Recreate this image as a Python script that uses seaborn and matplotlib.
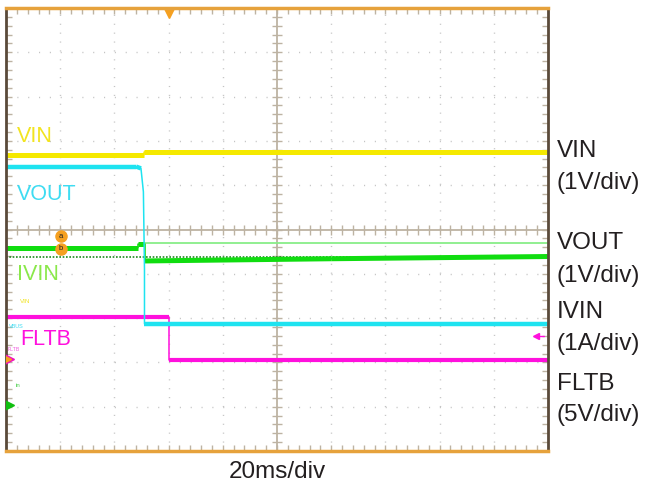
"""
Scope capture redrawn: VIN / VOUT / IVIN / FLTB at 20 ms/div.
Trace levels are in screen divisions (centre line = 0, +-5 div).
"""

import matplotlib
matplotlib.use('Agg')
import matplotlib.pyplot as plt
from matplotlib.ticker import MultipleLocator
import pandas as pd
import seaborn as sns

sns.set_style('white')
plt.rcParams['font.family'] = ['Liberation Sans', 'DejaVu Sans']

# time axis in ms (10 div x 20 ms)
X_MAX = 200

# traces: time (ms) and level (div)
vin_t = [0, 50.8, 51.0, 200]
vin_v = [1.68, 1.68, 1.75, 1.75]

vout_t = [0, 48.0, 49.8, 50.7, 51.1, 51.1, 200]
vout_v = [1.42, 1.42, 1.38, 0.85, -0.9, -2.13, -2.13]

ivin_t = [0, 48.7, 48.7, 50.8, 51.3, 51.3, 120, 200]
ivin_v = [-0.41, -0.41, -0.33, -0.33, -0.33, -0.71, -0.66, -0.61]

fltb_t = [0, 60.0, 60.0, 200]
fltb_v = [-1.97, -1.97, -2.95, -2.95]

# reference lines
ivin_ref_t = [49.5, 200]
ivin_ref_v = [-0.30, -0.30]
dotted_ref_t = [0, 200]
dotted_ref_v = [-0.62, -0.62]

# channel names, colours and scales
channels = ['VIN', 'VOUT', 'IVIN', 'FLTB']
scales = ['(1V/div)', '(1V/div)', '(1A/div)', '(5V/div)']
trace_colors = ['#f5e900', '#1ee3f0', '#10dd10', '#ff10dd']
label_colors = ['#f2e420', '#3fdcf2', '#8ae84a', '#ff10dd']

TAN = '#bdb3a3'


def draw_trace(ax, t, v, color, lw):
    """thin line for the whole path, thick for the flat parts"""
    df = pd.DataFrame({'t': t, 'v': v})
    sns.lineplot(data=df, x='t', y='v', color=color, lw=1.1,
                 estimator=None, sort=False, ax=ax)
    for i in range(len(t) - 1):
        if t[i + 1] - t[i] > 1.0:
            seg = df.iloc[i:i + 2]
            sns.lineplot(data=seg, x='t', y='v', color=color, lw=lw,
                         estimator=None, sort=False, ax=ax,
                         solid_capstyle='butt')


fig = plt.figure(figsize=(6.52, 4.87), dpi=100)
ax = fig.add_axes([6 / 652, 36 / 487, 542 / 652, 443 / 487])
ax.set_xlim(0, X_MAX)
ax.set_ylim(-5, 5)

# dotted graticule
for gx in range(20, X_MAX, 20):
    if gx != 100:
        ax.axvline(gx, color='#c4c4c4', lw=1, ls=(0, (0.8, 5.6)), zorder=0)
for gy in range(-4, 5):
    if gy != 0:
        ax.axhline(gy, color='#c4c4c4', lw=1, ls=(0, (0.8, 7.0)), zorder=0)

# centre cross with ticks
ax.axhline(0, color=TAN, lw=1.3, zorder=0)
ax.axvline(100, color=TAN, lw=1.3, zorder=0)
ax.plot([i * 4 for i in range(1, 50)], [0] * 49, ls='none', marker='|',
        ms=7, mew=1, color=TAN, zorder=0)
ax.plot([100] * 49, [-5 + i * 0.2 for i in range(1, 50)], ls='none',
        marker='_', ms=7, mew=1, color=TAN, zorder=0)

# border ticks
ax.xaxis.set_major_locator(MultipleLocator(20))
ax.xaxis.set_minor_locator(MultipleLocator(4))
ax.yaxis.set_major_locator(MultipleLocator(1))
ax.yaxis.set_minor_locator(MultipleLocator(0.2))
ax.tick_params(which='both', direction='in', top=True, right=True,
               bottom=True, left=True, length=4, width=1, color=TAN,
               labelbottom=False, labelleft=False)
ax.set_xlabel('')
ax.set_ylabel('')

# frame
for side in ['left', 'right']:
    ax.spines[side].set_color('#5a4a3a')
    ax.spines[side].set_linewidth(2)
for side in ['top', 'bottom']:
    ax.spines[side].set_color('#e6a23c')
    ax.spines[side].set_linewidth(2.5)

# reference lines
ax.plot(dotted_ref_t, dotted_ref_v, color='#1a8a1a', lw=1.2,
        ls=(0, (1, 1)), zorder=1)
ax.plot(ivin_ref_t, ivin_ref_v, color='#88ee88', lw=1.3, zorder=1)

# traces
draw_trace(ax, fltb_t, fltb_v, trace_colors[3], 3.0)
draw_trace(ax, ivin_t, ivin_v, trace_colors[2], 3.6)
draw_trace(ax, vout_t, vout_v, trace_colors[1], 3.2)
draw_trace(ax, vin_t, vin_v, trace_colors[0], 3.6)

# trigger / cursor markers
ax.plot(60, 4.88, marker='v', ms=7, color='#f5a020', clip_on=False)
for lab, ly in [('a', -0.15), ('b', -0.44)]:
    ax.plot(20.3, ly, marker='o', ms=8, color='#f5a020', zorder=5)
    ax.text(20.3, ly, lab, fontsize=5.5, ha='center', va='center',
            color='#202020', zorder=6)

# channel ground arrows
ax.plot(1.2, -2.92, marker='>', ms=7, color='#f010c0', zorder=5)
ax.plot(0.9, -2.92, marker='>', ms=4, color='#f5a020', zorder=6)
ax.plot(1.2, -3.96, marker='>', ms=7, color='#10c010', zorder=5)
ax.plot([195.5, 198.5], [-2.40, -2.40], color='#ff10dd', lw=1)
ax.plot(195.5, -2.40, marker='<', ms=4, color='#ff10dd')

# big labels inside the screen
ax.text(4, 1.98, 'VIN', fontsize=15.5, color=label_colors[0])
ax.text(4, 0.66, 'VOUT', fontsize=15.5, color=label_colors[1])
ax.text(4, -1.13, 'IVIN', fontsize=15.5, color=label_colors[2])
ax.text(5.2, -2.6, 'FLTB', fontsize=15.5, color=label_colors[3])

# tiny channel tags
ax.text(5.2, -1.65, 'VIN', fontsize=4.5, color=label_colors[0])
ax.text(1.0, -2.22, 'VBUS', fontsize=4.0, color=label_colors[1])
ax.text(0.6, -2.74, 'FLTB', fontsize=3.8, color='#f060e0')
ax.text(3.6, -3.55, 'in', fontsize=4.5, color='#50d050')

# scale labels on the right
baselines = [(157, 189), (249, 282), (318, 350), (390, 421)]
for name, scale, (b1, b2) in zip(channels, scales, baselines):
    fig.text(557 / 652, 1 - b1 / 487, name, fontsize=17.5,
             color='#231f20', va='baseline')
    fig.text(557 / 652, 1 - b2 / 487, scale, fontsize=17.5,
             color='#231f20', va='baseline')

fig.text(277 / 652, 1 - 478 / 487, '20ms/div', fontsize=17.5,
         color='#231f20', ha='center', va='baseline')

fig.savefig('out.png', dpi=100)
